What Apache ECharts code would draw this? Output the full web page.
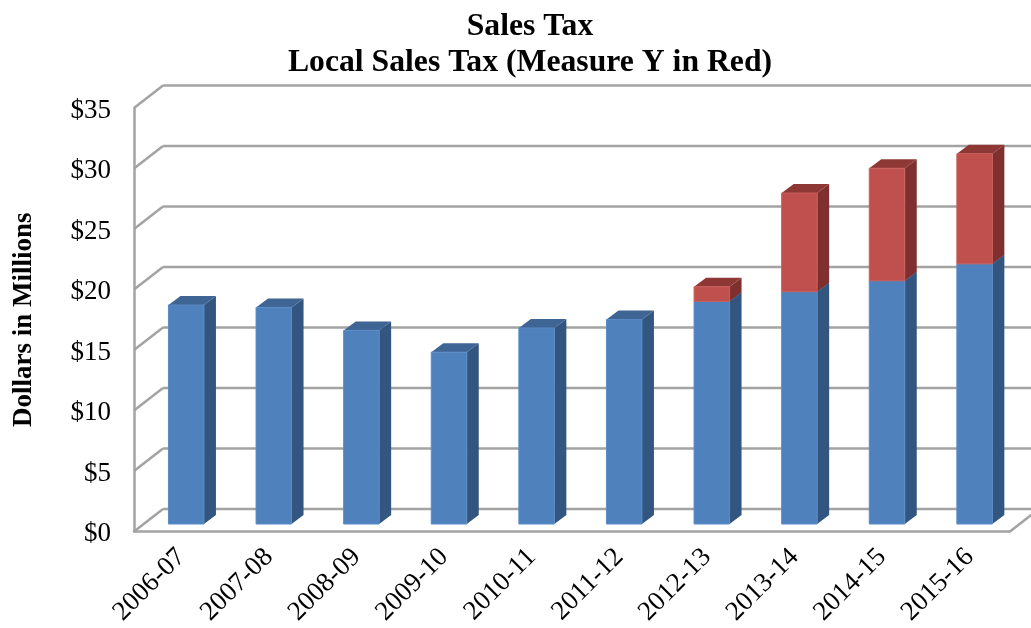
<!DOCTYPE html>
<html>
<head>
<meta charset="utf-8">
<title>Sales Tax</title>
<style>
  html, body { margin: 0; padding: 0; background: #fff; }
  #chart { width: 1031px; height: 628px; }
</style>
<script src="https://cdn.jsdelivr.net/npm/echarts@6/dist/echarts.min.js"></script>
</head>
<body>
<div id="chart"></div>
<script>
const years = ['2006-07', '2007-08', '2008-09', '2009-10', '2010-11', '2011-12', '2012-13', '2013-14', '2014-15', '2015-16'];
const baseTax = [18.1, 17.9, 16.0, 14.2, 16.2, 16.9, 18.4, 19.2, 20.1, 21.5];
const measureY = [0, 0, 0, 0, 0, 0, 1.2, 8.15, 9.3, 9.1];
const wallTicks = [0, 5, 10, 15, 20, 25, 30, 35];

const FONT = '"Liberation Serif", "Times New Roman", serif';
const WALL_COLOR = '#a3a3a3';
// 3D look: depth of the wall, and where the bar sits inside it
const WALL_DX = 29, WALL_DY = 22.5;
const BAR_DX = 8.4, BAR_DY = 7.5, BAR_W = 35.5, SIDE_DX = 12, SIDE_DY = 9;

function renderWall(params, api) {
    const v = api.value(0);
    const left = api.coord([0, v]);
    const right = api.coord([years.length - 1, v]);
    const band = api.size([1, 0])[0];
    const x0 = left[0] - band / 2;
    const x1 = right[0] + band / 2;
    const y = left[1];
    const style = { stroke: WALL_COLOR, lineWidth: 2.5, fill: null };
    const children = [
        { type: 'line', shape: { x1: x0, y1: y, x2: x0 + WALL_DX, y2: y - WALL_DY }, style },
        { type: 'line', shape: { x1: x0 + WALL_DX, y1: y - WALL_DY, x2: x1 + WALL_DX, y2: y - WALL_DY }, style }
    ];
    if (v === 0) {
        children.push({ type: 'line', shape: { x1: x1, y1: y, x2: x1 + WALL_DX, y2: y - WALL_DY }, style });
    }
    return { type: 'group', children };
}

function barRenderer(front, side, top, edge) {
    return function (params, api) {
        const i = api.value(0);
        const low = api.coord([i, api.value(1)]);
        const high = api.coord([i, api.value(2)]);
        const l = low[0] + BAR_DX - BAR_W / 2;
        const r = l + BAR_W;
        const yLow = low[1] - BAR_DY;
        const yHigh = high[1] - BAR_DY;
        return {
            type: 'group',
            children: [
                {
                    type: 'polygon',
                    shape: { points: [[r, yLow], [r + SIDE_DX, yLow - SIDE_DY], [r + SIDE_DX, yHigh - SIDE_DY], [r, yHigh]] },
                    style: { fill: side }
                },
                {
                    type: 'polygon',
                    shape: { points: [[l, yHigh], [r, yHigh], [r + SIDE_DX, yHigh - SIDE_DY], [l + SIDE_DX, yHigh - SIDE_DY]] },
                    style: { fill: top }
                },
                {
                    type: 'rect',
                    shape: { x: l, y: yHigh, width: BAR_W, height: yLow - yHigh },
                    style: { fill: front, stroke: edge, lineWidth: 1 }
                }
            ]
        };
    };
}

const baseData = years.map((y, i) => [i, 0, baseTax[i]]);
const measureData = years.map((y, i) => [i, baseTax[i], baseTax[i] + measureY[i]]).filter((d, i) => measureY[i] > 0);

const chart = echarts.init(document.getElementById('chart'), null, { renderer: 'canvas' });
chart.setOption({
    animation: false,
    backgroundColor: '#fff',
    title: {
        text: 'Sales Tax\nLocal Sales Tax (Measure Y in Red)',
        left: 525,
        top: 4,
        textAlign: 'center',
        textStyle: { fontFamily: FONT, fontSize: 31.7, fontWeight: 'bold', color: '#000', lineHeight: 36 }
    },
    // keep the plot where it is set, the rotated labels must not shrink it
    grid: { left: 134, top: 108, width: 876, height: 423.5, outerBoundsMode: 'none' },
    xAxis: {
        type: 'category',
        data: years,
        axisTick: { show: false },
        axisLine: { lineStyle: { color: WALL_COLOR, width: 2.5 } },
        axisLabel: { rotate: 45, margin: 25, padding: [0, -5, 0, 0], interval: 0, fontFamily: FONT, fontSize: 27, color: '#000' }
    },
    yAxis: {
        type: 'value',
        min: 0,
        max: 35,
        interval: 5,
        name: 'Dollars in Millions',
        nameLocation: 'middle',
        nameGap: 96,
        nameTextStyle: { fontFamily: FONT, fontSize: 27, fontWeight: 'bold', color: '#000' },
        splitLine: { show: false },
        axisTick: { show: false },
        axisLine: { show: true, lineStyle: { color: WALL_COLOR, width: 2.5 } },
        // top align with a short line height pushes the labels a little below the tick
        axisLabel: { margin: 23, verticalAlign: 'top', lineHeight: 5, fontFamily: FONT, fontSize: 27, color: '#000', formatter: v => '$' + v }
    },
    series: [
        { name: 'Wall', type: 'custom', clip: false, silent: true, z: 1, data: wallTicks.map(v => [v]), encode: { y: 0 }, renderItem: renderWall },
        { name: 'Local Sales Tax', type: 'custom', clip: false, z: 2, data: baseData, encode: { x: 0, y: 2 }, renderItem: barRenderer('#4f81bd', '#335681', '#3f6594', '#5a8bc6') },
        { name: 'Measure Y', type: 'custom', clip: false, z: 3, data: measureData, encode: { x: 0, y: 2 }, renderItem: barRenderer('#c0504d', '#7f302e', '#8e3836', '#c95f5c') }
    ]
});
</script>
</body>
</html>
